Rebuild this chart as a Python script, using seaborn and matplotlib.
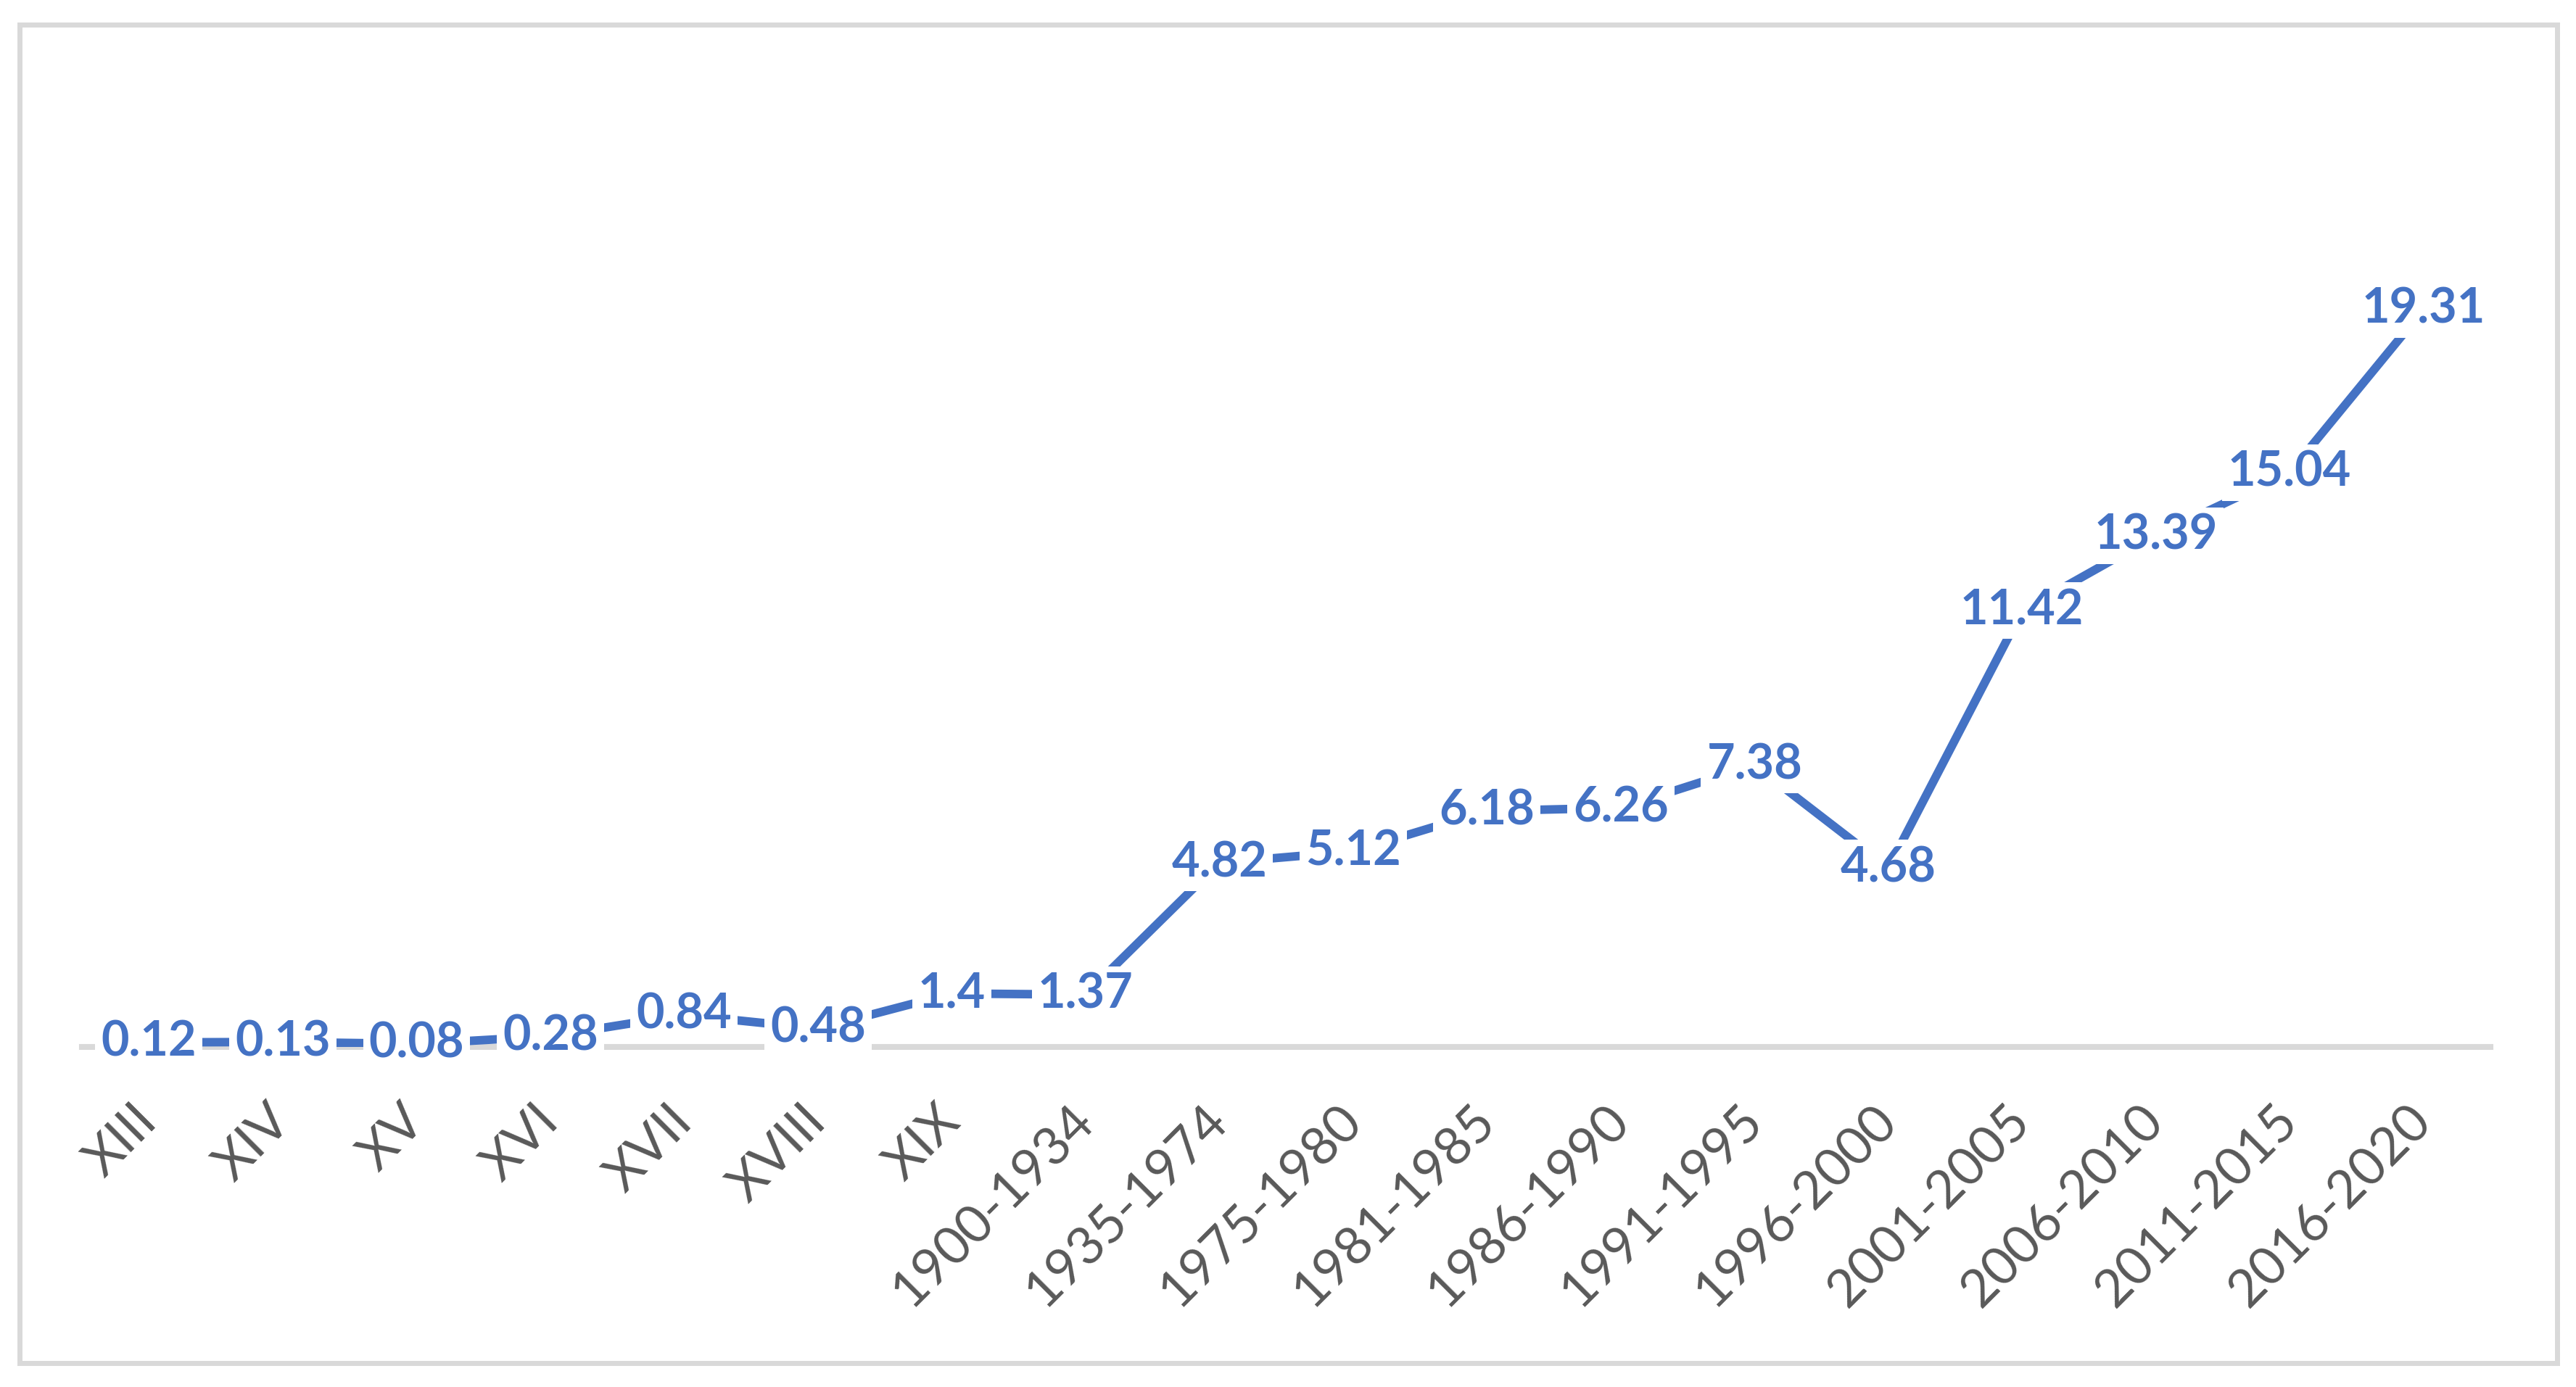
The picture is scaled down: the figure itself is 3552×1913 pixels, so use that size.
import matplotlib
matplotlib.use("Agg")
import matplotlib.pyplot as plt
from matplotlib.patches import Rectangle
import pandas as pd
import seaborn as sns

# values
periods = ["XIII", "XIV", "XV", "XVI", "XVII", "XVIII", "XIX",
           "1900-1934", "1935-1974", "1975-1980", "1981-1985", "1986-1990",
           "1991-1995", "1996-2000", "2001-2005", "2006-2010", "2011-2015", "2016-2020"]
values = [0.12, 0.13, 0.08, 0.28, 0.84, 0.48, 1.4, 1.37, 4.82, 5.12,
          6.18, 6.26, 7.38, 4.68, 11.42, 13.39, 15.04, 19.31]

df = pd.DataFrame({"period": periods, "value": values})

BLUE = "#4472C4"
GREY = "#D9D9D9"
TEXT = "#595959"

sns.set_theme(style="white")
plt.rcParams["font.family"] = ["Lato", "DejaVu Sans"]

W, H = 3552, 1913
fig = plt.figure(figsize=(W / 100, H / 100), dpi=100)
ax = fig.add_axes([113 / W, 1 - 1444 / H, (3434 - 113) / W, (1444 - 127) / H])

sns.lineplot(data=df, x="period", y="value", sort=False, color=BLUE,
             linewidth=8.5, solid_capstyle="butt", ax=ax, zorder=3)

# data labels sit on the points, white box hides the line underneath
for i, v in enumerate(values):
    ax.text(i, v, f"{v:g}", ha="center", va="center", fontsize=48,
            fontweight="bold", color=BLUE, zorder=4,
            bbox=dict(boxstyle="square,pad=0.12", fc="white", ec="none"))

ax.set_xlim(-0.5, len(periods) - 0.5)
ax.set_ylim(0, 25)
ax.set_xlabel("")
ax.set_ylabel("")
ax.set_yticks([])
ax.set_xticks(range(len(periods)))
ax.set_xticklabels(periods, rotation=45, ha="right", va="center",
                   rotation_mode="anchor", fontsize=52, color=TEXT)
ax.tick_params(axis="x", length=0, pad=66)

for side in ["left", "top", "right"]:
    ax.spines[side].set_visible(False)
ax.spines["bottom"].set_color(GREY)
ax.spines["bottom"].set_linewidth(5.8)
ax.spines["bottom"].set_zorder(1)

# chart-area border
fig.add_artist(Rectangle((26.5 / W, 1 - 1879.5 / H), (3525.5 - 26.5) / W,
                         (1879.5 - 33.5) / H, transform=fig.transFigure,
                         fill=False, ec=GREY, lw=5))

fig.savefig("out.png", dpi=100, facecolor="white")
